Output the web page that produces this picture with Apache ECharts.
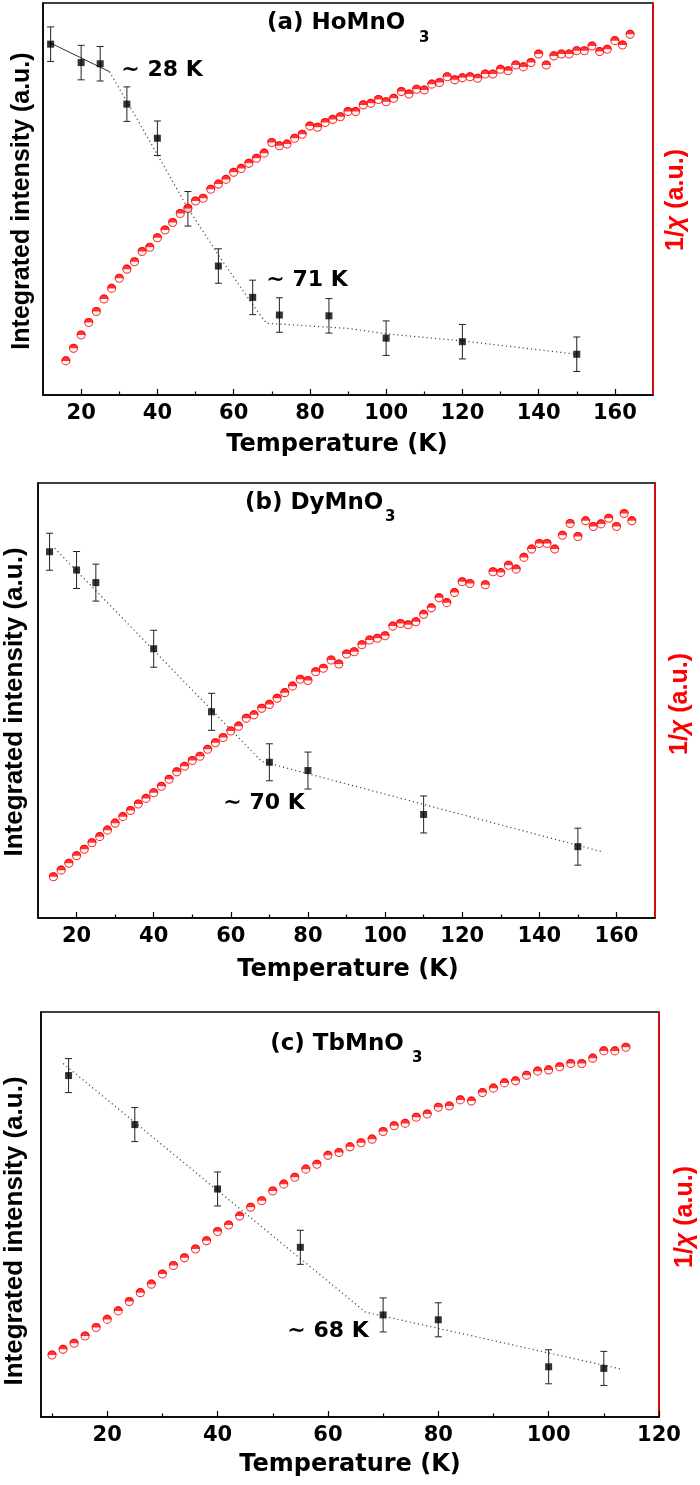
<!DOCTYPE html>
<html><head><meta charset="utf-8">
<script src="https://cdn.jsdelivr.net/npm/echarts@6/dist/echarts.min.js"></script>
<style>html,body{margin:0;padding:0;background:#fff}#c{width:700px;height:1485px}</style>
</head><body><div id="c"></div>
<script>
// ---------- Panel (a) HoMnO3 ----------
const tempIntA = [12, 20, 25, 32, 40, 48, 56, 65, 72, 85, 100, 120, 150];
const intA     = [89.5, 84.8, 84.5, 74.2, 65.5, 47.5, 32.9, 24.9, 20.4, 20.2, 14.5, 13.6, 10.4];
const errA     = [4.4, 4.4, 4.4, 4.4, 4.4, 4.4, 4.4, 4.4, 4.4, 4.4, 4.4, 4.4, 4.4];
const tempChiA = [16,18,20,22,24,26,28,30,32,34,36,38,40,42,44,46,48,50,52,54,56,58,60,62,64,66,68,70,72,74,76,78,80,82,84,86,88,90,
                  92,94,96,98,100,102,104,106,108,110,112,114,116,118,120,122,124,126,128,130,132,134,136,138,140,142,144,146,148,150,152,154,156,158,160,162,164];
const chiA     = [8.7, 11.9, 15.3, 18.5, 21.3, 24.5, 27.2, 29.8, 32.1, 34.0, 36.6, 37.7, 40.1, 42.1, 44.0, 46.3, 47.6, 49.5, 50.2, 52.5,
                  53.8, 55.0, 56.8, 57.8, 59.1, 60.4, 61.7, 64.4, 63.6, 64.0, 65.5, 66.5, 68.6, 68.3, 69.5, 70.3, 71.0, 72.3,
                  72.3, 74.0, 74.4, 75.4, 74.8, 75.7, 77.4, 76.8, 78.0, 77.8, 79.3, 79.7, 81.2, 80.4, 80.9, 81.2, 80.8, 81.9, 81.9, 83.1,
                  82.7, 84.2, 83.7, 84.8, 87.0, 84.2, 86.5, 87.0, 87.0, 87.8, 87.8, 89.0, 87.6, 88.2, 90.4, 89.3, 92.0];
const guideSolidA = [[11.5, 90.0], [27.4, 82.5]];
const guideDotA   = [[27.4, 82.5], [34.8, 70.2], [41.3, 59.1], [47.8, 48.0], [56.9, 34.4], [66.0, 21.7], [68.6, 18.3],
                     [90, 17.0], [100, 15.6], [120, 13.8], [150, 10.4]];
const majorTicksA = [20, 40, 60, 80, 100, 120, 140, 160];
const minorTicksA = [30, 50, 70, 90, 110, 130, 150];

// ---------- Panel (b) DyMnO3 ----------
const tempIntB = [13, 20, 25, 40, 55, 70, 80, 110, 150];
const intB     = [84.2, 80.0, 77.1, 61.9, 47.4, 35.8, 33.9, 23.8, 16.4];
const errB     = [4.25, 4.25, 4.25, 4.25, 4.25, 4.25, 4.25, 4.25, 4.25];
const tempChiB = [14,16,18,20,22,24,26,28,30,32,34,36,38,40,42,44,46,48,50,52,54,56,58,60,62,64,66,68,70,72,74,76,78,80,82,84,86,88,90,
                  92,94,96,98,100,102,104,106,108,110,112,114,116,118,120,122,126,128,130,132,134,136,138,140,142,144,146,148,150,152,154,156,158,160,162,164];
const chiB     = [9.5, 11.0, 12.6, 14.3, 15.8, 17.3, 18.7, 20.2, 21.8, 23.3, 24.7, 26.2, 27.5, 28.8, 30.3, 31.9, 33.6, 34.9, 36.2, 37.2,
                  38.8, 40.3, 41.5, 43.0, 44.1, 45.9, 46.7, 48.2, 49.1, 50.5, 51.8, 53.3, 54.9, 54.6, 56.6, 57.4, 59.3, 58.4, 60.7,
                  61.2, 62.8, 63.9, 64.3, 64.9, 67.1, 67.7, 67.4, 68.1, 69.8, 71.3, 73.6, 72.5, 74.8, 77.3, 76.9,
                  76.6, 79.6, 79.4, 81.1, 80.2, 82.9, 84.8, 86.1, 86.1, 84.8, 88.0, 90.7, 87.7, 91.3, 90.0, 90.6, 91.9, 90.0, 93.0, 91.3];
const guideDotB   = [[14.3, 85.0], [68, 36.0], [156.4, 15.2]];
const majorTicksB = [20, 40, 60, 80, 100, 120, 140, 160];
const minorTicksB = [30, 50, 70, 90, 110, 130, 150];

// ---------- Panel (c) TbMnO3 ----------
const tempIntC = [13, 25, 40, 55, 70, 80, 100, 110];
const intC     = [84.3, 72.2, 56.3, 41.9, 25.2, 24.0, 12.4, 12.0];
const errC     = [4.2, 4.2, 4.2, 4.2, 4.2, 4.2, 4.2, 4.2];
const tempChiC = [10,12,14,16,18,20,22,24,26,28,30,32,34,36,38,40,42,44,46,48,50,52,54,56,58,60,62,
                  64,66,68,70,72,74,76,78,80,82,84,86,88,90,92,94,96,98,100,102,104,106,108,110,112,114];
const chiC     = [15.3, 16.7, 18.2, 20.0, 22.1, 24.1, 26.2, 28.5, 30.7, 32.8, 35.3, 37.4, 39.3, 41.5, 43.5, 45.8, 47.4, 49.6, 51.8, 53.4,
                  55.8, 57.5, 59.2, 61.2, 62.4, 64.6, 65.3,
                  66.7, 67.7, 68.6, 70.5, 71.9, 72.5, 74.0, 74.8, 76.5, 76.8, 78.3, 78.0, 80.1, 81.2, 82.5, 83.0, 84.4, 85.4, 85.7,
                  86.5, 87.3, 87.3, 88.6, 90.4, 90.4, 91.3];
const guideDotC   = [[12, 87.3], [66.8, 25.9], [113.2, 11.8]];
const majorTicksC = [20, 40, 60, 80, 100, 120];
const minorTicksC = [10, 30, 50, 70, 90, 110];

// ---------- texts ----------
const panelTitles = ['(a) HoMnO', '(b) DyMnO', '(c) TbMnO'];
const panelSubs   = ['3', '3', '3'];
const annotations = ['~ 28 K', '~ 71 K', '~ 70 K', '~ 68 K'];
const xName = 'Temperature (K)';
const yLeftName = 'Integrated intensity (a.u.)';
const yRightName = '1/{c|χ} (a.u.)';

const RED = '#ff0000';
const HFONT = '"DejaVu Sans", sans-serif';
const VFONT = '"Liberation Sans", Arial, sans-serif';

const panels = [
  { grid: {left: 43, top: 3, width: 610, height: 392}, xmin: 10, xmax: 170,
    tInt: tempIntA, vInt: intA, eInt: errA, tChi: tempChiA, vChi: chiA,
    dots: guideDotA, solid: guideSolidA, major: majorTicksA, minor: minorTicksA },
  { grid: {left: 38, top: 483, width: 617, height: 435}, xmin: 10, xmax: 170,
    tInt: tempIntB, vInt: intB, eInt: errB, tChi: tempChiB, vChi: chiB,
    dots: guideDotB, solid: null, major: majorTicksB, minor: minorTicksB },
  { grid: {left: 41, top: 1012, width: 618, height: 405}, xmin: 8, xmax: 120,
    tInt: tempIntC, vInt: intC, eInt: errC, tChi: tempChiC, vChi: chiC,
    dots: guideDotC, solid: null, major: majorTicksC, minor: minorTicksC }
];

const grids = [], xAxes = [], yAxes = [], series = [];

function errRender(params, api) {
  const x = api.value(0), lo = api.value(1), hi = api.value(2);
  const p0 = api.coord([x, lo]), p1 = api.coord([x, hi]);
  const cw = 3.5;
  const st = {stroke: '#222', lineWidth: 1};
  return {type: 'group', children: [
    {type: 'line', shape: {x1: p0[0], y1: p0[1], x2: p1[0], y2: p1[1]}, style: st},
    {type: 'line', shape: {x1: p0[0] - cw, y1: p0[1], x2: p0[0] + cw, y2: p0[1]}, style: st},
    {type: 'line', shape: {x1: p1[0] - cw, y1: p1[1], x2: p1[0] + cw, y2: p1[1]}, style: st}
  ]};
}

panels.forEach((p, k) => {
  grids.push(Object.assign({show: true, borderColor: '#000', borderWidth: 1.5, backgroundColor: 'transparent'}, p.grid));
  xAxes.push({
    gridIndex: k, type: 'value', min: p.xmin, max: p.xmax, position: 'bottom',
    axisLine: {show: true, onZero: false, lineStyle: {color: '#000', width: 1.5}},
    axisTick: {show: true, inside: true, length: 6, customValues: p.major, lineStyle: {color: '#000', width: 1.2}},
    axisLabel: {show: true, customValues: p.major, margin: 8, color: '#000',
                fontFamily: HFONT, fontWeight: 'bold', fontSize: 21},
    splitLine: {show: false}
  });
  xAxes.push({
    gridIndex: k, type: 'value', min: p.xmin, max: p.xmax, position: 'bottom',
    axisLine: {show: false},
    axisTick: {show: true, inside: true, length: 3.5, customValues: p.minor, lineStyle: {color: '#000', width: 1.2}},
    axisLabel: {show: false}, splitLine: {show: false}
  });
  yAxes.push({
    gridIndex: k, type: 'value', min: 0, max: 100, position: 'left',
    axisLine: {show: true, onZero: false, lineStyle: {color: '#000', width: 1.5}},
    axisTick: {show: false}, axisLabel: {show: false}, splitLine: {show: false}
  });
  yAxes.push({
    gridIndex: k, type: 'value', min: 0, max: 100, position: 'right',
    axisLine: {show: true, onZero: false, lineStyle: {color: RED, width: 1.5}},
    axisTick: {show: false}, axisLabel: {show: false}, splitLine: {show: false}
  });
  const xi = 2 * k, yl = 2 * k, yr = 2 * k + 1;
  series.push({
    type: 'line', xAxisIndex: xi, yAxisIndex: yl, data: p.dots, showSymbol: false, symbol: 'none',
    lineStyle: {type: [1.2, 3], color: '#444', width: 1.2}, silent: true, z: 2
  });
  if (p.solid) {
    series.push({
      type: 'line', xAxisIndex: xi, yAxisIndex: yl, data: p.solid, showSymbol: false, symbol: 'none',
      lineStyle: {type: 'solid', color: '#333', width: 1}, silent: true, z: 2
    });
  }
  series.push({
    type: 'custom', xAxisIndex: xi, yAxisIndex: yl, renderItem: errRender,
    encode: {x: 0, y: [1, 2]}, z: 3, silent: true,
    data: p.tInt.map((t, i) => [t, p.vInt[i] - p.eInt[i], p.vInt[i] + p.eInt[i]])
  });
  series.push({
    type: 'scatter', xAxisIndex: xi, yAxisIndex: yl, symbol: 'rect', symbolSize: 7,
    itemStyle: {color: '#000'}, z: 4, silent: true,
    data: p.tInt.map((t, i) => [t, p.vInt[i]])
  });
  const chiData = p.tChi.map((t, i) => [t, p.vChi[i]]);
  series.push({
    type: 'scatter', xAxisIndex: xi, yAxisIndex: yr, symbol: 'circle', symbolSize: 8,
    itemStyle: {color: '#fff', borderColor: RED, borderWidth: 1.1}, z: 5, silent: true, data: chiData
  });
  series.push({
    type: 'scatter', xAxisIndex: xi, yAxisIndex: yr,
    symbol: 'path://M0,10 A10,10 0 0 1 20,10 Z', symbolKeepAspect: false,
    symbolSize: [9.1, 4.55], symbolOffset: [0, '-50%'],
    itemStyle: {color: RED, borderWidth: 0}, z: 6, silent: true, data: chiData
  });
});

function htext(x, y, txt, size, align, color) {
  return {type: 'text', x: x, y: y, z: 100, silent: true,
    style: {text: txt, fill: color || '#000', font: 'bold ' + size + 'px ' + HFONT,
            align: align || 'center', verticalAlign: 'middle'}};
}
function vtext(x, y, txt, size, color, rich) {
  const el = {type: 'text', x: x, y: y, rotation: Math.PI / 2, z: 100, silent: true,
    style: {text: txt, fill: color || '#000', font: 'bold ' + size + 'px ' + VFONT,
            align: 'center', verticalAlign: 'middle'}};
  if (rich) el.style.rich = rich;
  return el;
}
const chiRich = {c: {fontStyle: 'italic', fontWeight: 'bold', fontSize: 25, fontFamily: VFONT, fill: RED}};
const graphics = [
  htext(267, 23.5, panelTitles[0], 23, 'left'), htext(419, 38, panelSubs[0], 15, 'left'),
  htext(245, 503.5, panelTitles[1], 23, 'left'), htext(385, 517.5, panelSubs[1], 15, 'left'),
  htext(337, 1044, panelTitles[2], 23, 'center'), htext(412, 1058, panelSubs[2], 15, 'left'),
  htext(162, 70, annotations[0], 22), htext(307, 280, annotations[1], 22),
  htext(264, 803, annotations[2], 22), htext(328, 1331, annotations[3], 22),
  htext(337, 445, xName, 24), htext(348, 970, xName, 24), htext(350, 1465, xName, 24),
  vtext(22, 201, yLeftName, 25), vtext(15, 702, yLeftName, 26), vtext(15, 1231, yLeftName, 26),
  vtext(676, 200, yRightName, 25, RED, chiRich),
  vtext(680, 704, yRightName, 25, RED, chiRich),
  vtext(685, 1217, yRightName, 25, RED, chiRich)
];

const chart = echarts.init(document.getElementById('c'), null, {renderer: 'canvas', width: 700, height: 1485});
chart.setOption({
  animation: false,
  backgroundColor: '#fff',
  grid: grids, xAxis: xAxes, yAxis: yAxes, series: series,
  graphic: graphics
});
</script></body></html>
